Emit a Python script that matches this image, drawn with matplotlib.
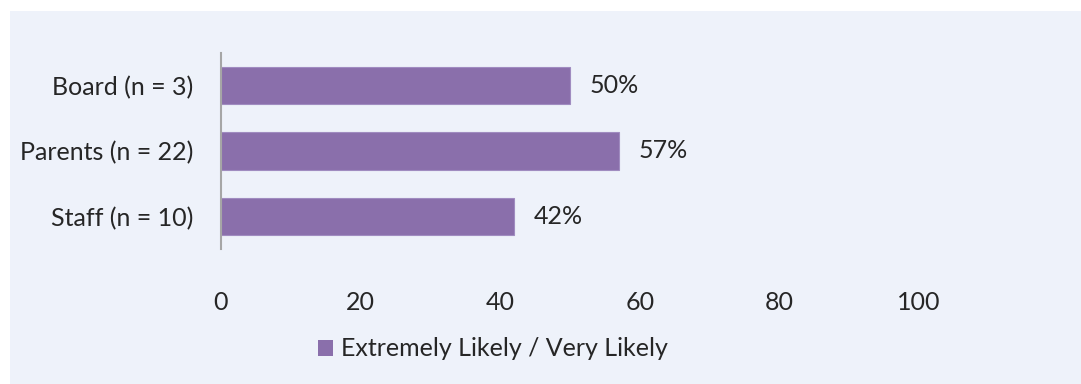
import matplotlib.pyplot as plt
from matplotlib.patches import Rectangle

# --- datos ---
grupos = ['Board (n = 3)', 'Parents (n = 22)', 'Staff (n = 10)']
valores = [50, 57, 42]
serie = 'Extremely Likely / Very Likely'
ticks_x = [0, 20, 40, 60, 80, 100]

COLOR_BARRA = '#8A6FAB'
COLOR_FONDO = '#EEF2FA'
COLOR_TEXTO = '#262626'

plt.rcParams['font.family'] = ['Lato', 'DejaVu Sans']

fig = plt.figure(figsize=(10.81, 3.84), dpi=100)
fig.patch.set_facecolor('white')
# panel de fondo claro (por debajo de los ejes)
fig.patches.append(Rectangle((10 / 1081, 0), 1, 1 - 11 / 384, transform=fig.transFigure,
                             facecolor=COLOR_FONDO, edgecolor='none', zorder=-5))

ax = fig.add_axes([221 / 1081, 1 - 249 / 384, 698 / 1081, 196 / 384])
ax.set_facecolor('none')
ax.set_zorder(2)

pos = list(range(len(grupos)))
barras = ax.barh(pos, valores, height=0.57, color=COLOR_BARRA,
                 edgecolor='#A08CC0', linewidth=0.8, label=serie)
ax.set_ylim(len(grupos) - 0.5, -0.5)
ax.set_xlim(0, 100)

for b, v in zip(barras, valores):
    ax.annotate(f'{v}%', (v, b.get_y() + b.get_height() / 2), xytext=(14, 0),
                textcoords='offset points', va='center', ha='left',
                fontsize=18, color=COLOR_TEXTO)

ax.set_yticks(pos)
ax.set_yticklabels(grupos, fontsize=18, color=COLOR_TEXTO)
ax.set_xticks(ticks_x)
ax.set_xticklabels([str(t) for t in ticks_x], fontsize=18, color=COLOR_TEXTO)
ax.tick_params(axis='y', length=0, pad=20)
ax.tick_params(axis='x', length=0, pad=30)

for lado in ['top', 'right', 'bottom']:
    ax.spines[lado].set_visible(False)
ax.spines['left'].set_color('#A6A6A6')
ax.spines['left'].set_linewidth(1.5)

leg = fig.legend(loc='center', bbox_to_anchor=(493 / 1081, 1 - 349 / 384),
                 frameon=False, fontsize=18, handlelength=0.6, handleheight=0.6,
                 handletextpad=0.3, labelcolor=COLOR_TEXTO)
for h in leg.legend_handles:
    h.set_edgecolor('none')

fig.savefig('out.png', dpi=100)
